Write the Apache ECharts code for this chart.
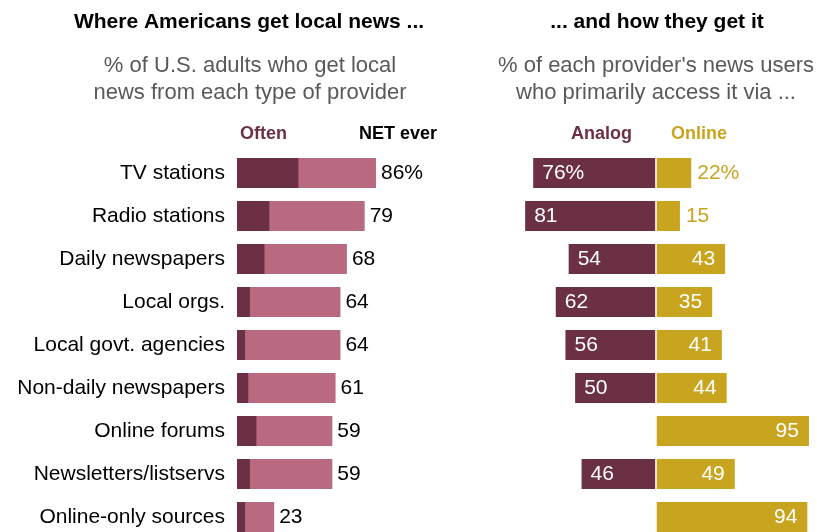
<!DOCTYPE html>
<html>
<head>
<meta charset="utf-8">
<script src="https://cdn.jsdelivr.net/npm/echarts@6/dist/echarts.min.js"></script>
<style>
  html, body { margin: 0; padding: 0; background: #fff; overflow: hidden; }
  #chart { width: 817px; height: 560px; }
</style>
</head>
<body>
<div id="chart"></div>
<script>
// Provider types, top to bottom
const providers = [
  'TV stations', 'Radio stations', 'Daily newspapers', 'Local orgs.',
  'Local govt. agencies', 'Non-daily newspapers', 'Online forums',
  'Newsletters/listservs', 'Online-only sources'
];
// % of U.S. adults who get local news from each provider
const netEver = [86, 79, 68, 64, 64, 61, 59, 59, 23];
const often   = [38, 20, 17, 8, 5, 7, 12, 8, 5];
// % of each provider's news users who primarily access it via ...
const analog  = [76, 81, 54, 62, 56, 50, null, 46, null];
const online  = [22, 15, 43, 35, 41, 44, 95, 49, 94];

const C_DARK = '#6b3044';
const C_PINK = '#b96a80';
const C_GOLD = '#c9a41e';
const FONT = 'Liberation Sans, Arial, sans-serif';
const LABEL_SIZE = 21;

const pct = (v, i) => i === 0 ? v + '%' : String(v);

const chart = echarts.init(document.getElementById('chart'), null, { renderer: 'canvas' });

const rowH = 43;
const gridTop = 173 - rowH / 2;
const gridH = rowH * providers.length;

const onlineData = online.map((v, i) => {
  const small = v < 30;
  return {
    value: v,
    label: {
      position: small ? 'right' : 'insideRight',
      distance: small ? 6 : 10,
      color: small ? C_GOLD : '#fff',
      formatter: () => pct(v, i)
    }
  };
});

const analogData = analog.map((v, i) => v == null ? '-' : {
  value: -v,
  label: { formatter: () => pct(v, i) }
});

const headStyle = { fontFamily: FONT, fontWeight: 'bold', fontSize: 21, color: '#000' };
const subStyle = { fontFamily: FONT, fontWeight: 'normal', fontSize: 22, lineHeight: 27, color: '#595959' };

chart.setOption({
  animation: false,
  textStyle: { fontFamily: FONT },
  title: [
    { text: 'Where Americans get local news ...', left: 244, top: 7, textAlign: 'center', textStyle: headStyle },
    { text: '% of U.S. adults who get local\nnews from each type of provider', left: 245, top: 47, textAlign: 'center', textStyle: subStyle },
    { text: '... and how they get it', left: 652, top: 7, textAlign: 'center', textStyle: headStyle },
    { text: '% of each provider\'s news users\nwho primarily access it via ...', left: 651, top: 47, textAlign: 'center', textStyle: subStyle }
  ],
  graphic: [
    { type: 'text', left: 240, top: 125, style: { text: 'Often', fill: C_DARK, font: 'bold 18px ' + FONT } },
    { type: 'text', left: 359, top: 125, style: { text: 'NET ever', fill: '#000', font: 'bold 18px ' + FONT } },
    { type: 'text', left: 571, top: 125, style: { text: 'Analog', fill: C_DARK, font: 'bold 18px ' + FONT } },
    { type: 'text', left: 671, top: 125, style: { text: 'Online', fill: C_GOLD, font: 'bold 18px ' + FONT } }
  ],
  grid: [
    { left: 237, top: gridTop, width: 161.6, height: gridH },
    { left: 494.5, top: gridTop, width: 324, height: gridH }
  ],
  xAxis: [
    { gridIndex: 0, type: 'value', min: 0, max: 100, show: false },
    { gridIndex: 1, type: 'value', min: -100, max: 100, show: false }
  ],
  yAxis: [
    { gridIndex: 0, type: 'category', data: providers, inverse: true,
      axisLine: { show: false }, axisTick: { show: false }, splitLine: { show: false },
      axisLabel: { margin: 12, fontSize: LABEL_SIZE, color: '#000', fontFamily: FONT } },
    { gridIndex: 1, type: 'category', data: providers, inverse: true, show: false }
  ],
  series: [
    { name: 'NET ever', type: 'bar', xAxisIndex: 0, yAxisIndex: 0, data: netEver,
      barWidth: 30, barGap: '-100%', itemStyle: { color: C_PINK },
      label: { show: true, position: 'right', distance: 5, fontSize: LABEL_SIZE, color: '#000',
               formatter: p => pct(p.value, p.dataIndex) } },
    { name: 'Often', type: 'bar', xAxisIndex: 0, yAxisIndex: 0, data: often,
      barWidth: 30, barGap: '-100%', itemStyle: { color: C_DARK } },
    { name: 'Analog', type: 'bar', xAxisIndex: 1, yAxisIndex: 1, data: analogData,
      barWidth: 30, barGap: '-100%', itemStyle: { color: C_DARK },
      label: { show: true, position: 'insideLeft', distance: 9, fontSize: LABEL_SIZE, color: '#fff' } },
    { name: 'Online', type: 'bar', xAxisIndex: 1, yAxisIndex: 1, data: onlineData,
      barWidth: 30, barGap: '-100%', itemStyle: { color: C_GOLD },
      label: { show: true, fontSize: LABEL_SIZE },
      markLine: { silent: true, symbol: 'none', label: { show: false },
                  lineStyle: { color: '#fff', width: 1.5, type: 'solid' },
                  data: [{ xAxis: 0 }] } }
  ]
});
</script>
</body>
</html>
